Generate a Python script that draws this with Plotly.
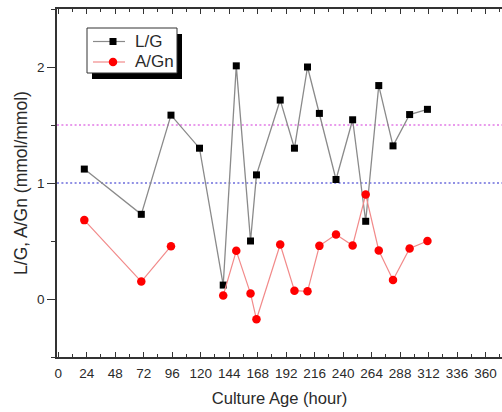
import plotly.graph_objects as go

hours = [22, 70, 95, 119, 139, 150, 162, 167, 187, 199, 210, 220, 234, 248, 259, 270, 282, 296, 311]
lg_values = [1.12, 0.73, 1.585, 1.30, 0.12, 2.01, 0.50, 1.07, 1.715, 1.30, 2.00, 1.60,
             1.03, 1.545, 0.67, 1.84, 1.32, 1.59, 1.635]
agn_values = [0.68, 0.15, 0.455, None, 0.03, 0.415, 0.047, -0.175, 0.47, 0.072, 0.066, 0.458,
              0.556, 0.461, 0.90, 0.418, 0.164, 0.435, 0.50]
series_names = ["L/G", "A/Gn"]
ref_levels = [1.5, 1.0]
ref_colors = ["#e27ae6", "#6c6cdc"]
x_ticks = list(range(0, 361, 24))
y_ticks = [0, 1, 2]

FONT = "Liberation Sans, Arial, sans-serif"
NARROW = "Liberation Sans Narrow, Arial Narrow, Liberation Sans, sans-serif"
TXT = "#2a2a2a"
LG_LINE, LG_MARK = "#8a8a8a", "#000000"
AG_LINE, AG_MARK = "#f28a8a", "#ff0000"

# plot area in pixels (for the hand-made legend box)
PL, PR, PT, PB = 57, 502, 9, 357
def px(x):
    return (x - PL) / (PR - PL)
def py(y):
    return (PB - y) / (PB - PT)

fig = go.Figure()
fig.add_trace(go.Scatter(
    x=hours, y=lg_values, name=series_names[0], mode="lines+markers",
    line=dict(color=LG_LINE, width=1.3),
    marker=dict(symbol="square", size=7, color=LG_MARK, line=dict(width=0)),
))
fig.add_trace(go.Scatter(
    x=hours, y=agn_values, name=series_names[1], mode="lines+markers", connectgaps=False,
    line=dict(color=AG_LINE, width=1.2),
    marker=dict(symbol="circle", size=8.5, color=AG_MARK, line=dict(width=0)),
))

for lvl, col in zip(ref_levels, ref_colors):
    fig.add_shape(type="line", xref="x domain", yref="y", x0=0, x1=1, y0=lvl, y1=lvl,
                  line=dict(color=col, width=1.5, dash="2px,2.4px"), layer="below")

# legend box with drop shadow
fig.add_shape(type="rect", xref="paper", yref="paper",
              x0=px(92), x1=px(182), y0=py(79), y1=py(34),
              fillcolor="#000000", line=dict(width=0), layer="above")
fig.add_shape(type="rect", xref="paper", yref="paper",
              x0=px(87), x1=px(177), y0=py(73), y1=py(28),
              fillcolor="white", line=dict(color="#333333", width=1), layer="above")
rows = [41.5, 62.0]
for name, yy, lc, mc, sym in zip(series_names, rows, [LG_LINE, AG_LINE], [LG_MARK, AG_MARK],
                                 ["rect", "circle"]):
    fig.add_shape(type="line", xref="paper", yref="paper", x0=px(93), x1=px(125),
                  y0=py(yy), y1=py(yy), line=dict(color=lc, width=1.2), layer="above")
    r = 3.5 if sym == "rect" else 4.25
    fig.add_shape(type=sym, xref="paper", yref="paper", x0=px(113 - r), x1=px(113 + r),
                  y0=py(yy + r), y1=py(yy - r), fillcolor=mc, line=dict(width=0), layer="above")
    fig.add_annotation(text=name, xref="paper", yref="paper", x=px(133), y=py(yy),
                       xanchor="left", yanchor="middle", showarrow=False,
                       font=dict(family=FONT, size=17, color=TXT))

fig.update_layout(
    width=502, height=412,
    margin=dict(l=PL, r=502 - PR, t=PT, b=412 - PB, autoexpand=False),
    paper_bgcolor="white", plot_bgcolor="white",
    font=dict(family=FONT, color=TXT, size=13),
    showlegend=False,
    xaxis=dict(
        range=[-1, 373.8], tickmode="array", tickvals=x_ticks,
        ticktext=[str(v) for v in x_ticks],
        ticks="inside", ticklen=5, tickwidth=1.2, tickcolor="#333",
        minor=dict(ticks="inside", ticklen=3, dtick=12, tickcolor="#333", tickwidth=1.2),
        showline=True, linecolor="#333", linewidth=1.5, mirror="ticks",
        showgrid=False, zeroline=False, automargin=False,
        tickfont=dict(family=NARROW, size=13.5, color=TXT), ticklabelstandoff=3,
        title=dict(text="Culture Age (hour)", font=dict(family=FONT, size=16.6, color=TXT),
                   standoff=12),
    ),
    yaxis=dict(
        range=[-0.5, 2.5], tickmode="array", tickvals=y_ticks,
        ticktext=[str(v) for v in y_ticks],
        ticks="outside", ticklen=8, tickwidth=1.2, tickcolor="#333",
        minor=dict(ticks="outside", ticklen=4, dtick=0.5, tickcolor="#333", tickwidth=1.2),
        showline=True, linecolor="#333", linewidth=1.5, mirror=False,
        showgrid=False, zeroline=False, automargin=False,
        tickfont=dict(family=NARROW, size=13.5, color=TXT),
        title=dict(text="L/G, A/Gn (mmol/mmol)", font=dict(family=FONT, size=17.5, color=TXT),
                   standoff=5),
    ),
)

fig.write_html("out.html", config={"displayModeBar": False},
               post_script="document.body.style.margin='0';document.body.style.overflow='hidden';")
